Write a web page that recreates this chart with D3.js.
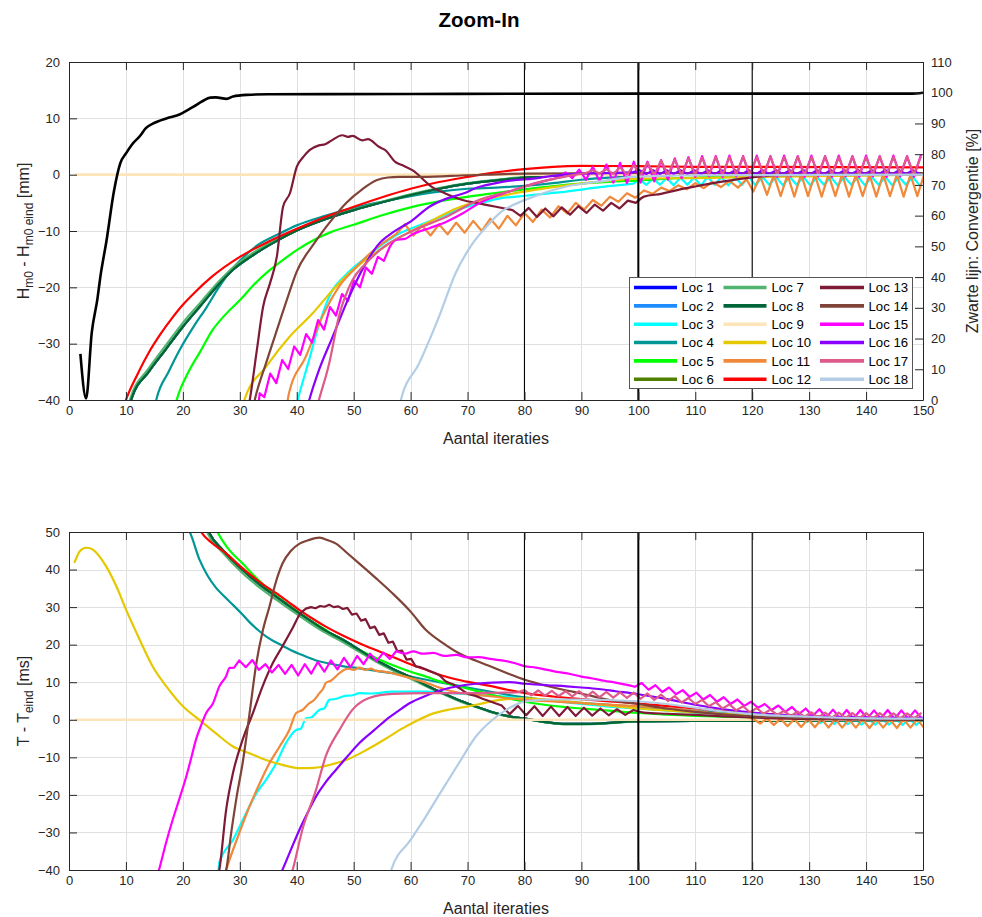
<!DOCTYPE html>
<html>
<head>
<meta charset="utf-8">
<script src="https://cdn.jsdelivr.net/npm/d3@7"></script>
<style>
  body { margin: 0; background: #fff; }
  svg { display: block; font-family: "Liberation Sans", Arial, Helvetica, sans-serif; }
</style>
</head>
<body>
<svg id="chart" width="982" height="917"></svg>
<script>
// ---------- axis ticks ----------
const iterTicks = d3.range(0, 151, 10);
const hTicks = [-40, -30, -20, -10, 0, 10, 20];
const convTicks = d3.range(0, 111, 10);
const tTicks = [-40, -30, -20, -10, 0, 10, 20, 30, 40, 50];
const markerIters = [80, 100, 120];

const locNames = d3.range(1, 19).map(i => "Loc " + i);
const locColors = [
  "#0000FF", "#1E8CFF", "#00FFFF", "#009696", "#00FF00", "#508000",
  "#50B46E", "#00663A", "#FDE5B9", "#E5C800", "#F0893A", "#FF0000",
  "#7F1A36", "#7F4338", "#FF00FF", "#8A00FF", "#DD5A8A", "#B3CDE6"
];

// expands an explicit list of alternating (oscillating) values into
// [iteration, value, 1] triples; the third field marks them as a saw-tooth run
function zig(x0, step, vals) { return vals.map((v, i) => [x0 + i * step, v, 1]); }

// ---------- convergence (right axis, %) ----------
const convergence = [[2,15],[3,0.5],[4,22],[5,33],[5.5,40],[6.6,52],[7.9,68],[9,77],[10.1,80.5],[11,83],[12.5,86],[13.5,88.5],[14.8,90],[17.2,91.7],[19.5,93],[21.8,95.4],[23.5,97.3],[24.8,98.4],[25.8,98.5],[27.7,98.0],[28.8,98.8],[31.2,99.3],[35,99.5],[60,99.6],[100,99.7],[148,99.7],[150,100]];

// ---------- Hm0 - Hm0 eind [mm] ----------
const hLoc8 = [[10.5,-41.5],[11,-39.7],[14,-35],[17,-31],[20,-27],[23,-23.4],[26,-19.8],[29,-16.7],[32,-14.5],[35,-12.6],[40,-9.9],[45,-7.9],[50,-6.3],[55,-4.9],[60,-3.6],[65,-2.5],[70,-1.6],[75,-1],[80,-0.5],[90,0],[100,0.1],[150,0.1]];
const hLoc1 = hLoc8;
const hLoc2 = hLoc8;
const hLoc6 = hLoc8;
const hLoc7 = [[10.3,-41.5],[10.8,-39.7],[14,-34.4],[17,-30.3],[20,-26.3],[23,-22.8],[26,-19.3],[29,-16.3],[32,-14.1],[35,-12.3],[40,-9.7],[45,-7.8],[50,-6.2],[55,-4.8],[60,-3.5],[65,-2.4],[70,-1.5],[75,-0.9],[80,-0.4],[90,0],[100,0.1],[150,0.1]];
const hLoc3 = [[39.8,-41.5],[40.3,-39.5],[42,-33.5],[43.8,-27],[46,-21],[48.6,-17.8],[52.3,-14.6],[55,-12.4],[58.1,-10.4],[61,-9.2],[64,-8],[67,-6.8],[69.9,-5.7],[72.8,-4.9],[75.7,-4.2],[78.6,-3.9],[81.6,-3.6],[84.5,-3.3],[87.4,-3.0],[90.4,-2.6],[93.3,-2.2],[96.2,-1.9],[99.1,-1.6],
  ...zig(100.2, 1.2, [-0.9,-1.8,-0.7,-1.8,-0.6,-1.9,-0.5,-1.8,-0.5,-1.9,-0.4,-1.8,-0.4,-1.9,-0.4,-1.8,-0.4,-1.9,-0.4,-1.8,-0.4,-1.9,-0.4,-1.8,-0.4,-1.9,-0.4,-1.8,-0.4,-1.9,-0.4,-1.8,-0.4,-1.9,-0.4,-1.8,-0.4,-1.9,-0.4,-1.8,-0.4,-1.9])];
const hLoc4 = [[15,-41.5],[15.4,-39.7],[17.5,-35],[19.5,-31],[22,-26.8],[24.2,-23.5],[26,-20.5],[28,-17.6],[30,-15.3],[33,-12.6],[36.9,-10.5],[40,-9.0],[45,-7.3],[50,-5.9],[55,-4.8],[60,-3.8],[65,-3.0],[70,-2.5],[75,-2.3],[80,-2.0],[85,-1.5],[90,-0.9],[100,-0.3],[110,0],[150,0]];
const hLoc5 = [[18.5,-41.5],[19,-39.7],[21,-35],[23,-31.5],[25.2,-27.6],[27.5,-24.8],[30,-22.3],[32.5,-19.5],[35.2,-17],[37.5,-15.2],[40,-13.4],[43,-11.6],[46,-10.2],[50,-8.9],[55,-7.2],[60,-5.8],[67,-4.4],[73,-3.5],[80,-2.6],[90,-1.6],[100,-1],[110,-0.5],[120,-0.3],[150,0]];
const hLoc9 = [[1.2,0],[150,0]];
const hLoc10 = [[30.5,-41],[30.8,-40],[34.6,-34.1],[38.7,-28.8],[42.8,-24.6],[46.3,-20.5],[49.8,-17],[54.5,-13.4],[58,-11.2],[64,-8],[68,-6],[72.8,-4.5],[80,-3],[90,-1.6],[100,-0.7],[110,-0.6],[120,-0.4],[150,0]];
const hLoc11 = [[38.2,-41.5],[38.6,-39],[41.6,-32.3],[44.5,-25.2],[47.4,-19.9],[50.4,-16.5],[53.3,-13.6],[55.6,-11.8],
  ...zig(57.5, 1.5, [-10.5,-8.8,-10.8,-9.0,-10.8,-8.8,-10.6,-8.5,-10.3,-8.2,-10.0,-7.8,-9.6,-7.3,-9.0,-6.8,-8.4,-6.2,-7.6,-5.6,-6.9,-5.0,-6.2,-4.5,-5.5,-3.9,-4.8,-3.3,-4.1,-2.8,-3.4,-2.3,-2.9,-1.9,-2.6,-1.5,-2.4,-1.3,-2.2,-1.1,-2.3,-0.8]),
  ...zig(120.2, 1.2, [-3.0,-0.2,-3.6,0.0,-3.8,0.0,-3.9,0.1,-3.8,0.0,-3.9,0.0,-3.8,0.1,-3.9,0.0,-3.8,0.0,-3.9,0.1,-3.8,0.0,-3.9,0.0,-3.8,0.0])];
const hLoc12 = [[9.5,-41.5],[10,-40],[12,-35.5],[14,-31.6],[16,-28.4],[18,-25.6],[20,-23.1],[22,-21],[25,-18.2],[30,-14.6],[35,-11.9],[40,-9.6],[45,-7.5],[50,-5.7],[55,-4],[60,-2.5],[65,-1.3],[70,-0.4],[75,0.4],[80,1.0],[85,1.4],[90,1.55],[100,1.5],[110,1.4],[150,1.3]];
const hLoc13 = [[31.5,-41.5],[31.8,-39.7],[33,-31.1],[34.1,-23.4],[35.3,-19.3],[36.5,-14.6],[37.6,-5.7],[38.8,-3.3],[40,1.4],[41.2,3.2],[42.3,4.4],[43.9,5.2],[45,5.4],[46,6],[48,7],[49,6.7],[49.8,6.9],[51.5,6.1],[52.5,6.3],[54.5,4.9],[55.5,4.4],[57.4,2.2],[58.5,1.7],[60.3,0.8],[63.8,-2.2],[66,-3.3],[69.1,-4.5],[72,-5.1],[75,-5.7],[77.9,-6.3],
  ...zig(79.3, 1.45, [-7.3,-5.9,-7.5,-6.0,-7.4,-5.8,-7.1,-5.6,-6.8,-5.3,-6.4,-5.0,-6.0,-4.6,-5.0]),
  [101,-3.9],[104,-3.4],[107,-2.7],[110,-2.1],[115,-1.2],[119,-0.6],[125,-0.1],[150,0.1]];
const hLoc14 = [[32.3,-41.5],[32.7,-39.7],[34.6,-33.5],[36.9,-26.4],[38.5,-21.5],[40,-17.2],[43,-12.3],[46,-8.2],[48.6,-5.1],[51.5,-2.6],[54,-1.0],[56,-0.5],[58,-0.4],[62,-0.4],[70,-0.1],[80,0.2],[100,0.3],[150,0.3]];
const hLoc15 = [[33.2,-41.5],[33.5,-38.8],
  ...zig(34.3, 1.05, [-39.5,-35.3,-37,-32.9,-34.5,-30.5,-32,-28.3,-29.8,-25.8,-27.5,-23.5,-25,-21.2,-22.4,-18.8,-20,-16.5,-17.6,-14.6,-15.3,-12.8]),
  [57.4,-11.6],[59,-11.4],[60.3,-10.6],[63.3,-9.5],[66.2,-8.4],[69.1,-6.9],[72,-5.1],[75,-3.8],[77.9,-2.8],[81,-1.8],[84,-1.0],[86,-0.5],
  ...zig(87.2, 1.2, [0.4,-0.6,0.9,-0.9,1.4,-1.2,1.8,-1.4,2.1,-1.5,2.3,-1.4,2.3,-1.2,2.6,-0.9,2.9,-0.6,3.1,-0.4,3.3,-0.3,3.3,-0.4,3.4,-0.3,3.3,-0.4,3.4,-0.3,3.3,-0.4,3.4,-0.3,3.3,-0.4,3.4,-0.3,3.3,-0.4,3.4,-0.3,3.3,-0.4,3.4,-0.3,3.3,-0.4,3.4,-0.3,3.3,-0.4,3.4])];
const hLoc16 = [[41.8,-41.5],[42.2,-40],[43.9,-34.7],[46.3,-28.8],[49.2,-21.7],[52.1,-15.8],[54.5,-12.2],[56.8,-10.3],[60.3,-8.1],[63.3,-5.7],[66.2,-4.3],[69.1,-3.4],[72,-2.2],[75,-1.5],[77.9,-1],[81.6,-0.7],[85,-0.2],[90,0.2],[95,0.3],[99,0.4],
  ...zig(100.2, 1.2, [0.8,0.1,0.8,0.1,0.8,0.1,0.8,0.1,0.8,0.1,0.8,0.1,0.8,0.1,0.8,0.1,0.8,0.1,0.8,0.1,0.8,0.1,0.8,0.1,0.8,0.1,0.8,0.1,0.8,0.1,0.8,0.1,0.8,0.1,0.8,0.1,0.8,0.1,0.8,0.1,0.8,0.1])];
const hLoc17 = [[43.5,-41.5],[43.9,-40],[45.7,-33.5],[47.4,-25.2],[49.8,-18.7],[52.1,-15.8],[55.6,-12.6],[60.3,-10],[66.2,-7.5],[72,-4.5],[77.9,-2.8],[82,-1.5],[86,-0.6],[89,0.0],[90.8,0.3],
  ...zig(92.0, 1.2, [0.8,0.2,1.0,0.1,1.3,0.0,1.7,-0.1,2.1,0.0,2.5,0.0,2.7,0.0,2.9,0.0,3.0,0.0,3.1,0.0,3.1,0.1,3.2,0.0,3.1,0.1,3.2,0.0,3.1,0.1,3.2,0.0,3.1,0.1,3.2,0.0,3.1,0.1,3.2,0.0,3.1,0.1,3.2,0.0,3.1,0.1,3.2,0.0,3.1])];
const hLoc18 = [[58,-41.5],[58.3,-40],[61.5,-33.5],[65,-25.2],[67.9,-17.5],[70.9,-12.2],[73.8,-8.7],[76,-6.5],[78,-5.4],[81.6,-3.9],[87.4,-2.1],[93.3,-1.2],[99.1,-0.4],[110,-0.1],[150,0]];

// ---------- T - T eind [ms] ----------
const tLoc8 = [[24.3,51],[24.7,49.6],[27,45.2],[30.5,39.9],[33.5,36],[36.4,32.8],[39.3,29.6],[42.2,26.6],[45,23.8],[48.1,21.3],[51,18.6],[53.9,15.9],[56.8,13.6],[59.8,11.5],[62.7,9.2],[65.6,7.1],[68.5,5.2],[71.5,3.5],[74.4,2.0],[77.3,0.9],[80,0.3],[84.2,-0.7],[87,-1.1],[90,-1.1],[95,-0.8],[99.1,-0.4],[110,-0.3],[120,-0.3],[130,-0.2],[150,-0.1]];
const tLoc1 = tLoc8;
const tLoc2 = tLoc8;
const tLoc6 = tLoc8;
const tLoc7 = [[24,51],[24.4,49.6],[27,44.5],[30.5,39.0],[33.5,35.2],[36.4,32.0],[39.3,28.9],[42.2,25.9],[45,23.2],[48.1,20.7],[51,18.1],[53.9,15.5],[56.8,13.2],[59.8,11.1],[62.7,8.9],[65.6,6.9],[68.5,5.0],[71.5,3.4],[74.4,1.9],[77.3,0.8],[80,0.2],[84.2,-0.8],[87,-1.2],[90,-1.2],[95,-0.9],[99.1,-0.5],[110,-0.3],[150,-0.1]];
const tLoc3 = [[26.2,-41.5],[26.4,-38],[28.8,-32],[31.1,-24.9],[32.9,-19.6],[34.6,-16],[36.4,-11.6],[38.1,-6.2],[39.9,-2.7],[40.7,-2.4],[41.6,0.4],[42.5,0.6],[44,2.7],[44.8,3.0],[45.7,5.3],[47,5.6],[48.1,6.2],[50,6.6],[51,7.1],[53,7.0],[56.8,7.5],[62.7,7.5],[66,7.2],[70,6.8],[75,6.3],[80,5.8],[85,5.0],[90,4.2],[95,3.5],[100,3.0],[110,1.9],[120,1.0],[125,0.5],[127.2,0.3],
  ...zig(128.4, 1.2, [0.6,-0.6,0.5,-0.9,0.5,-1.1,0.4,-1.2,0.4,-1.3,0.3,-1.3,0.3,-1.3,0.3,-1.4,0.3,-1.4,0.3])];
const tLoc4 = [[20.8,51],[21.2,50],[22.9,42.7],[24.3,38.5],[25.8,35.2],[27.3,32.8],[28.8,30.6],[30.3,28.3],[31.7,26.0],[33.2,23.9],[34.6,22.2],[36,20.9],[37.5,19.7],[39,18.5],[40.5,17.5],[42,16.6],[43.4,15.8],[45.7,15.0],[48,14.3],[51,13.7],[54,13.0],[56.8,12.4],[60,11.5],[65,10],[70,8.6],[75,7.2],[80,6.0],[90,4.5],[99.1,3.6],[110,2.4],[120,1.4],[130,0.8],[140,0.5],[150,0.4]];
const tLoc5 = [[25.8,51],[26.1,50],[28,45.5],[30.5,41.6],[33,37.6],[36,33.5],[39,30],[42,26.8],[45.1,23.9],[48,21.0],[51,18.6],[54,16.4],[56.8,14.6],[60,12.8],[62.7,11.5],[65.5,10.1],[68.5,8.9],[71.5,7.7],[74.4,6.6],[78,5.4],[81.6,4.4],[87,3.4],[93.3,2.6],[100,1.8],[110,1.0],[120,0.6],[130,0.3],[150,0.1]];
const tLoc9 = [[1.2,0],[150,0]];
const tLoc10 = [[1,42],[1.9,44.9],[3,45.8],[4,45.5],[4.8,44.5],[6.5,40.9],[8.3,35.6],[10,29.4],[12.4,21.4],[14.7,14.2],[17.1,8.9],[20,3.6],[22.9,0],[25.8,-3.6],[28.8,-7.1],[31.7,-8.9],[34.6,-10.7],[37.5,-12],[40.5,-12.9],[43,-12.8],[46.3,-11.8],[49,-10.5],[52.3,-8],[55.7,-5.0],[58.1,-2.7],[61,-0.3],[64,1.7],[67,2.8],[69.9,3.5],[73,4.5],[75.7,5.3],[80,5.7],[85,5.2],[90,4.5],[100,3],[110,2],[120,1.2],[130,0.6],[140,0.3],[150,0.1]];
const tLoc11 = [[27.3,-41.5],[27.6,-40],[29.9,-30.2],[31.7,-23.1],[33.5,-16.9],[35.2,-11.6],[37,-7.1],[38.7,-2.7],[39.9,1.8],[41,2.6],[42.2,4.4],[43,5.2],[44,7.1],[44.6,8.2],[45.1,9.8],[46,10.4],[47.5,12.4],[49,13.6],[50,13.3],[51,13.9],[52,13.3],[53,13.6],[54,13.0],[55,12.9],[56.8,12.4],[59,11.5],[62.7,9.9],[65,8.6],[68.5,7.2],[72,6.6],[74.4,6.2],[78,5.6],[80.2,5.3],[85,4.9],[90,4.4],[100,3.6],[110,2.3],[115,1.4],[119,0.8],
  ...zig(120.2, 1.2, [0.2,-1.0,0.3,-1.4,0.3,-1.7,0.2,-1.9,0.2,-2.0,0.2,-2.1,0.2,-2.1,0.1,-2.1,0.1,-2.2,0.1,-2.1,0.1,-2.2,0.1,-2.1,0.1,-2.2])];
const tLoc12 = [[23,50.5],[23.2,50],[25,47.2],[27.6,44.3],[30,41],[32.3,38.1],[34.5,35.6],[36.4,33.7],[38.5,31.4],[40.5,29.2],[42.8,26.9],[45.1,24.8],[48,22.5],[51,20.4],[54,18.5],[56.8,16.8],[60,14.8],[62.7,13.3],[65.5,11.8],[68.5,10.6],[71.5,9.7],[74.4,8.9],[77,8.0],[80.2,7.1],[85,6.2],[90,5.5],[95,4.9],[100,4.3],[110,3.0],[120,1.8],[130,0.9],[140,0.4],[150,0.2]];
const tLoc13 = [[26.2,-41.5],[26.4,-40],[27.6,-24],[28.8,-14.2],[30.5,-5.3],[32.3,1.8],[34,8.9],[35.8,15.1],[37.5,19.6],[39.3,24.5],[40.5,28],[41.6,29.6],
  ...zig(42.5, 0.8, [30,29.7,30.3,30.1,30.6,30.0,30.2,29.5,29.8,28.0,28.3,26.4,26.8,24.4,24.8,22.6,23.0,20.5,20.8,18.2,18.4,16.0,16.2,14.2,14.0]),
  [64,12.6],[65,11.9],[66.2,10.2],[67.5,9.4],[68.7,8.3],[70,7.0],[71.5,6.3],[73,5.4],[74.5,4.6],[76,3.8],
  ...zig(77.4, 1.45, [1.5,3.7,1.2,3.6,1.0,3.5,1.0,3.4,1.0,3.2,1.1,3.0,1.2,2.8,1.3,2.6]),
  [101,1.9],[105,1.6],[110,1.3],[115,0.9],[120,0.6],[130,0.2],[150,0]];
const tLoc14 = [[27.3,-41.5],[27.6,-40],[28.5,-30],[29.5,-20],[30.5,-11.5],[31.7,1.5],[32.9,15],[34,23.5],[35.2,30.1],[36.3,36.5],[37.5,41.6],[39,45],[40.5,46.9],[42,47.8],[44,48.5],[45.5,47.8],[46.9,46.9],[49,44.2],[51,41.6],[54,37.6],[56.8,33.7],[60,28.8],[62.7,23.9],[65.5,20.6],[68.5,17.7],[71.5,15.7],[74.4,14],[77.3,12.2],[80.2,10.6],[84,9.0],[87.4,7.8],[90,7],[93.3,5.8],[96,5],[99.1,4.4],[105,3.0],[110,2.1],[116,1.3],[120,0.9],[130,0.4],[140,0.1],[150,0]];
const tLoc15 = [[15.5,-41.5],[15.8,-40],[17,-33],[18.2,-26.7],[19.4,-21],[20.6,-15.1],[21.5,-10],[22.3,-5.3],[23.2,-1.5],[24.1,1.8],[25.3,4.4],[26.4,8.9],[27.6,11.6],[28.2,13.8],[29,13.9],
  ...zig(29.9, 1.15, [15.8,14.0,15.9,13.3,14.8,12.6,14.6,12.2,14.6,11.8,14.8,12.3,15.4,12.8,15.8,13.4,16.5,14.0,17.0,14.8,17.6,15.6,17.9,16.2,18.3]),
  [59,17.6],[60.5,18.2],[62,17.6],[64,17.8],[66,17.0],[68,17.3],[70,16.6],[72,16.7],[74,16.2],[76,15.8],[78,15.2],[80,14.3],[82,13.9],[84,13.3],[86,12.7],[88,12.2],[90,11.5],[92,11.0],[94,10.4],[96,9.9],[98,9.3],[99.4,8.8],
  ...zig(100.6, 1.2, [9.8,8.0,9.2,7.4,8.6,6.8,7.9,6.1,7.2,5.4,6.6,4.8,6.0,4.2,5.4,3.7,4.8,3.2,4.2,2.6,3.8,2.1,3.4,1.5,3.0,1.0,2.8,0.6,2.7,0.4,2.6,0.3,2.6,0.3,2.5,0.3,2.6,0.2,2.5,0.3,2.5,0.3])];
const tLoc16 = [[37,-41.5],[37.5,-39.9],[39,-34.5],[40.5,-29.2],[42,-24.5],[43.4,-20.4],[45,-16.8],[46.9,-13.3],[49,-9.6],[51,-6.2],[53.5,-2.9],[55.7,0],[57.8,2.3],[59.8,4.4],[62.7,6.4],[65.6,8],[68.5,9.0],[71.5,9.6],[74.4,9.9],[77.3,10.0],[80.2,9.6],[84,9.2],[87.4,8.9],[90,8.6],[93,8.2],[96,7.6],[100,6.8],[105,5.5],[110,4.0],[115,2.8],[120,1.9],[125,1.3],[130,0.9],[140,0.6],[150,0.5]];
const tLoc17 = [[39,-41.5],[39.3,-39.9],[41,-29.2],[43.4,-18.6],[45.1,-9.7],[47.5,-2.7],[49.8,2.7],[52.7,5.8],[56.8,6.9],[62.7,7.1],[70,7.1],[75,7.2],[78.8,7.3],
  ...zig(80, 1.2, [7.9,6.5,7.8,6.4,7.7,6.3,7.6,6.2,7.6,6.1,7.5,6.0,7.4,5.9,7.3,5.8,7.2,5.6,7.0,5.3,6.7,5.0,6.3,4.6,5.8,4.2,5.3,3.6,4.7,3.0,4.1,2.5,3.6,2.0,3.1,1.6,2.7,1.3,2.4,1.0,2.2,0.8,2.0,0.6,1.9,0.5,1.9,0.5,1.8,0.4,1.8,0.4,1.8,0.4,1.7,0.4,1.7,0.4,1.7])];
const tLoc18 = [[56.3,-41.5],[56.6,-40],[60,-32],[62.7,-25.7],[65,-20],[68.5,-11.5],[71.5,-4.4],[74.4,0],[77.3,3.1],[80.2,4.9],[84,5.4],[90,5.4],[99.1,5.0],[105,4.2],[110,3.2],[115,2.2],[120,1.5],[130,0.8],[140,0.4],[150,0.3]];

const hSeries = [hLoc1,hLoc2,hLoc3,hLoc4,hLoc5,hLoc6,hLoc7,hLoc8,hLoc9,hLoc10,hLoc11,hLoc12,hLoc13,hLoc14,hLoc15,hLoc16,hLoc17,hLoc18];
const tSeries = [tLoc1,tLoc2,tLoc3,tLoc4,tLoc5,tLoc6,tLoc7,tLoc8,tLoc9,tLoc10,tLoc11,tLoc12,tLoc13,tLoc14,tLoc15,tLoc16,tLoc17,tLoc18];

// ---------- layout ----------
const svg = d3.select("#chart");
const AX = "#262626";
const GRID = "#e0e0e0";
const plotL = 69, plotR = 923;
const x = d3.scaleLinear().domain([0, 150]).range([plotL, plotR]);

function styleAxis(g) {
  g.attr("font-family", null).attr("font-size", 13);
  g.selectAll(".domain").attr("stroke", AX);
  g.selectAll(".tick line").attr("stroke", AX);
  g.selectAll(".tick text").attr("fill", AX);
}

// smooth runs get a monotone curve, saw-tooth runs are drawn straight
function seriesPath(s, y) {
  const smooth = d3.line().x(d => x(d[0])).y(d => y(d[1])).curve(d3.curveMonotoneX);
  const sharp = d3.line().x(d => x(d[0])).y(d => y(d[1]));
  const runs = [];
  let cur = null;
  s.forEach((p, i) => {
    const kind = p[2] ? 1 : 0;
    if (!cur || cur.kind !== kind) {
      const prev = cur ? cur.pts[cur.pts.length - 1] : null;
      cur = { kind, pts: prev ? [prev] : [] };
      runs.push(cur);
    }
    cur.pts.push(p);
  });
  return runs.map(r => (r.kind ? sharp : smooth)(r.pts)).join("");
}

function drawPanel(cfg) {
  const { top, bottom, y, yTicks, series, id } = cfg;
  const root = svg.append("g");

  svg.append("clipPath").attr("id", id)
    .append("rect").attr("x", plotL).attr("y", top)
    .attr("width", plotR - plotL).attr("height", bottom - top);

  // grid
  const grid = root.append("g").attr("stroke", GRID).attr("stroke-width", 1);
  grid.selectAll(".gx").data(iterTicks.filter(t => t > 0 && t < 150)).join("line")
    .attr("x1", d => Math.round(x(d)) + 0.5).attr("x2", d => Math.round(x(d)) + 0.5)
    .attr("y1", top).attr("y2", bottom);
  grid.selectAll(".gy").data(yTicks.filter(t => t > y.domain()[0] && t < y.domain()[1])).join("line")
    .attr("y1", d => Math.round(y(d)) + 0.5).attr("y2", d => Math.round(y(d)) + 0.5)
    .attr("x1", plotL).attr("x2", plotR);

  // data lines
  const dataG = root.append("g").attr("clip-path", `url(#${id})`);
  series.forEach((s, i) => {
    dataG.append("path").attr("d", seriesPath(s, y))
      .attr("fill", "none").attr("stroke", locColors[i])
      .attr("stroke-width", i === 8 ? 2.6 : 2.2)
      .attr("stroke-linejoin", "round").attr("stroke-linecap", "round");
  });
  if (cfg.extra) cfg.extra(dataG);

  // iteration markers
  root.append("g").selectAll("line").data(markerIters).join("line")
    .attr("x1", d => x(d)).attr("x2", d => x(d))
    .attr("y1", top).attr("y2", bottom)
    .attr("stroke", "#000").attr("stroke-width", d => d === 100 ? 2 : 1.1);

  // axes (box with inward ticks)
  root.append("g").attr("transform", `translate(0,${bottom})`)
    .call(d3.axisBottom(x).tickValues(iterTicks).tickSize(-8).tickSizeOuter(0).tickPadding(6))
    .call(styleAxis);
  root.append("g").attr("transform", `translate(0,${top})`)
    .call(d3.axisTop(x).tickValues(iterTicks).tickSize(-8).tickSizeOuter(0).tickFormat(""))
    .call(styleAxis);
  root.append("g").attr("transform", `translate(${plotL},0)`)
    .call(d3.axisLeft(y).tickValues(yTicks).tickSize(-8).tickSizeOuter(0).tickPadding(9))
    .call(styleAxis);
  if (cfg.rightAxis) {
    root.append("g").attr("transform", `translate(${plotR},0)`)
      .call(cfg.rightAxis).call(styleAxis);
  }

  // x label
  root.append("text").attr("x", (plotL + plotR) / 2).attr("y", bottom + 44)
    .attr("text-anchor", "middle").attr("font-size", 16).attr("fill", AX)
    .text("Aantal iteraties");
  return root;
}

// ---------- top panel ----------
const yH = d3.scaleLinear().domain([-40, 20]).range([400, 62]);
const yConv = d3.scaleLinear().domain([0, 110]).range([400, 62]);

drawPanel({
  id: "clipTop", top: 62, bottom: 400, y: yH, yTicks: hTicks, series: hSeries,
  rightAxis: d3.axisRight(yConv).tickValues(convTicks).tickSize(-8).tickSizeOuter(0).tickPadding(8),
  extra: g => {
    const convLine = d3.line().x(d => x(d[0])).y(d => yConv(d[1])).curve(d3.curveMonotoneX);
    g.append("path").attr("d", convLine(convergence))
      .attr("fill", "none").attr("stroke", "#000").attr("stroke-width", 2.6)
      .attr("stroke-linejoin", "round");
  }
});

// ---------- bottom panel ----------
const yT = d3.scaleLinear().domain([-40, 50]).range([870, 532]);
drawPanel({
  id: "clipBottom", top: 532, bottom: 870, y: yT, yTicks: tTicks, series: tSeries,
  rightAxis: d3.axisRight(yT).tickValues(tTicks).tickSize(-8).tickSizeOuter(0).tickFormat("")
});

// ---------- titles and axis labels ----------
svg.append("text").attr("x", 479).attr("y", 26.5).attr("text-anchor", "middle")
  .attr("font-size", 20.5).attr("font-weight", "bold").attr("fill", "#000").text("Zoom-In");

const hLab = svg.append("text").attr("transform", "translate(28.5,231) rotate(-90)")
  .attr("text-anchor", "middle").attr("font-size", 16).attr("fill", AX);
hLab.append("tspan").text("H");
hLab.append("tspan").attr("dy", 4).attr("font-size", 12).text("m0");
hLab.append("tspan").attr("dy", -4).text(" - H");
hLab.append("tspan").attr("dy", 4).attr("font-size", 12).text("m0 eind");
hLab.append("tspan").attr("dy", -4).text(" [mm]");

svg.append("text").attr("transform", "translate(977.5,231) rotate(-90)")
  .attr("text-anchor", "middle").attr("font-size", 16).attr("fill", AX)
  .text("Zwarte lijn: Convergentie [%]");

const tLab = svg.append("text").attr("transform", "translate(28.5,701) rotate(-90)")
  .attr("text-anchor", "middle").attr("font-size", 16).attr("fill", AX);
tLab.append("tspan").text("T - T");
tLab.append("tspan").attr("dy", 4).attr("font-size", 12).text("eind");
tLab.append("tspan").attr("dy", -4).text(" [ms]");

// ---------- legend ----------
const leg = svg.append("g");
leg.append("rect").attr("x", 629.5).attr("y", 277.5).attr("width", 283).attr("height", 111)
  .attr("fill", "#fff").attr("stroke", "#555").attr("stroke-width", 1);
const colX = [[634, 677, 681.5], [723.5, 766.5, 771.5], [820, 864, 868.5]];
locNames.forEach((name, i) => {
  const c = Math.floor(i / 6), r = i % 6;
  const cy = 287.5 + r * 18.35;
  leg.append("line").attr("x1", colX[c][0]).attr("x2", colX[c][1])
    .attr("y1", cy).attr("y2", cy).attr("stroke", locColors[i]).attr("stroke-width", 3.6);
  leg.append("text").attr("x", colX[c][2]).attr("y", cy).attr("dy", "0.36em")
    .attr("font-size", 13.2).attr("fill", "#000").text(name);
});
</script>
</body>
</html>
